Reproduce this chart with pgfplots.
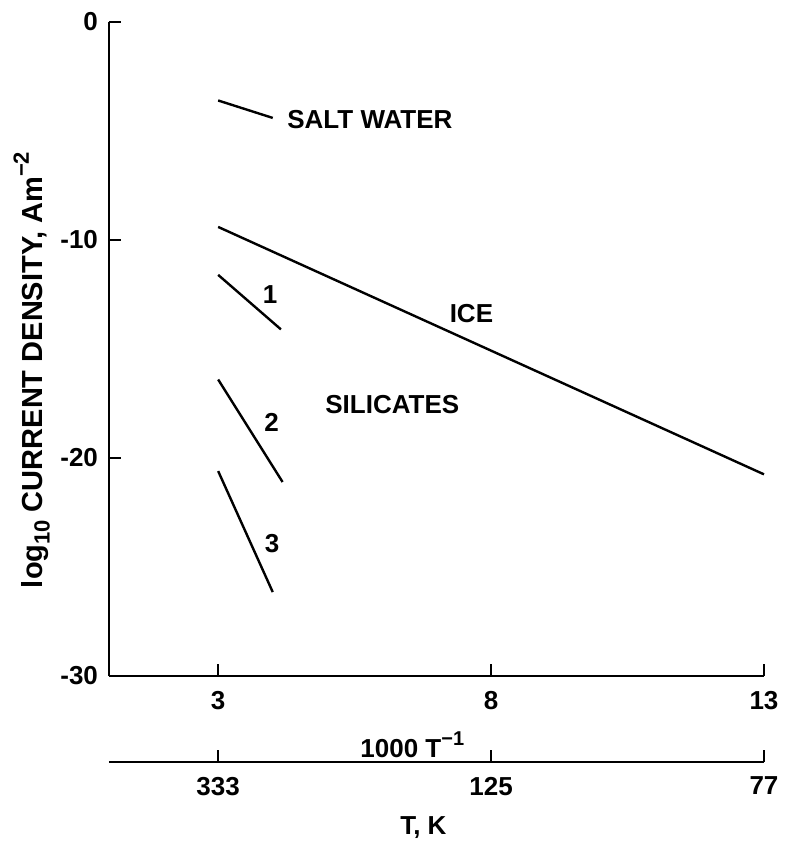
\documentclass[border=0pt]{standalone}
\usepackage{fontspec}
\setmainfont{Liberation Sans}
\usepackage{pgfplots}
\pgfplotsset{compat=1.18}
\begin{document}
\begin{tikzpicture}[font=\fontsize{13}{15}\selectfont\bfseries]
\begin{axis}[name=main, at={(0pt,0pt)}, anchor=south west,
  scale only axis, width=327.5pt, height=327pt,
  xmin=1, xmax=13, ymin=-30, ymax=0,
  axis lines=left, axis line style={-, line width=0.8pt},
  tick align=inside, major tick length=6pt,
  tick style={line width=0.8pt, black},
  xtick={3,8,13}, xticklabels={3,8,13},
  ytick={-30,-20,-10,0}, yticklabels={-30,-20,-10,0},
  xticklabel style={yshift=-4pt},
  yticklabel style={xshift=-2pt},
  clip=false]
\addplot[black, line width=1.2pt] coordinates {(3,-3.6) (4,-4.4)};
\addplot[black, line width=1.2pt] coordinates {(3,-9.4) (13,-20.75)};
\addplot[black, line width=1.2pt] coordinates {(3,-11.6) (4.15,-14.1)};
\addplot[black, line width=1.2pt] coordinates {(3,-16.4) (4.18,-21.1)};
\addplot[black, line width=1.2pt] coordinates {(3,-20.6) (4.0,-26.15)};
\node at (axis cs:5.78,-4.47) {SALT WATER};
\node at (axis cs:7.64,-13.38) {ICE};
\node at (axis cs:6.19,-17.56) {SILICATES};
\node at (axis cs:3.95,-12.49) {1};
\node at (axis cs:3.98,-18.36) {2};
\node at (axis cs:3.99,-23.92) {3};
\node[rotate=90, font=\fontsize{14.5}{16}\selectfont\bfseries] at (rel axis cs:-0.118,0.468) {log\raisebox{-0.45ex}{\fontsize{11}{12}\selectfont 10} CURRENT DENSITY, Am\raisebox{0.9ex}{\fontsize{11}{12}\selectfont −2}};
\node at (rel axis cs:0.463,-0.105) {1000 T\raisebox{0.9ex}{\fontsize{10}{12}\selectfont −1}};
\end{axis}
\begin{axis}[at={(0pt,-43pt)}, anchor=south west,
  scale only axis, width=327.5pt, height=20pt,
  xmin=1, xmax=13, ymin=0, ymax=1,
  axis x line=bottom, axis y line=none,
  x axis line style={-, line width=0.8pt},
  tick align=inside, major tick length=6pt,
  tick style={line width=0.8pt, black},
  xtick={3,8,13}, xticklabels={333,125,77},
  xticklabel style={yshift=-4pt},
  clip=false]
\addplot[draw=none] coordinates {(3,0.5)};
\node at (rel axis cs:0.48,-1.65) {T, K};
\end{axis}
\path (-54.5pt,338pt) rectangle (335.5pt,-91.5pt);
\end{tikzpicture}
\end{document}
